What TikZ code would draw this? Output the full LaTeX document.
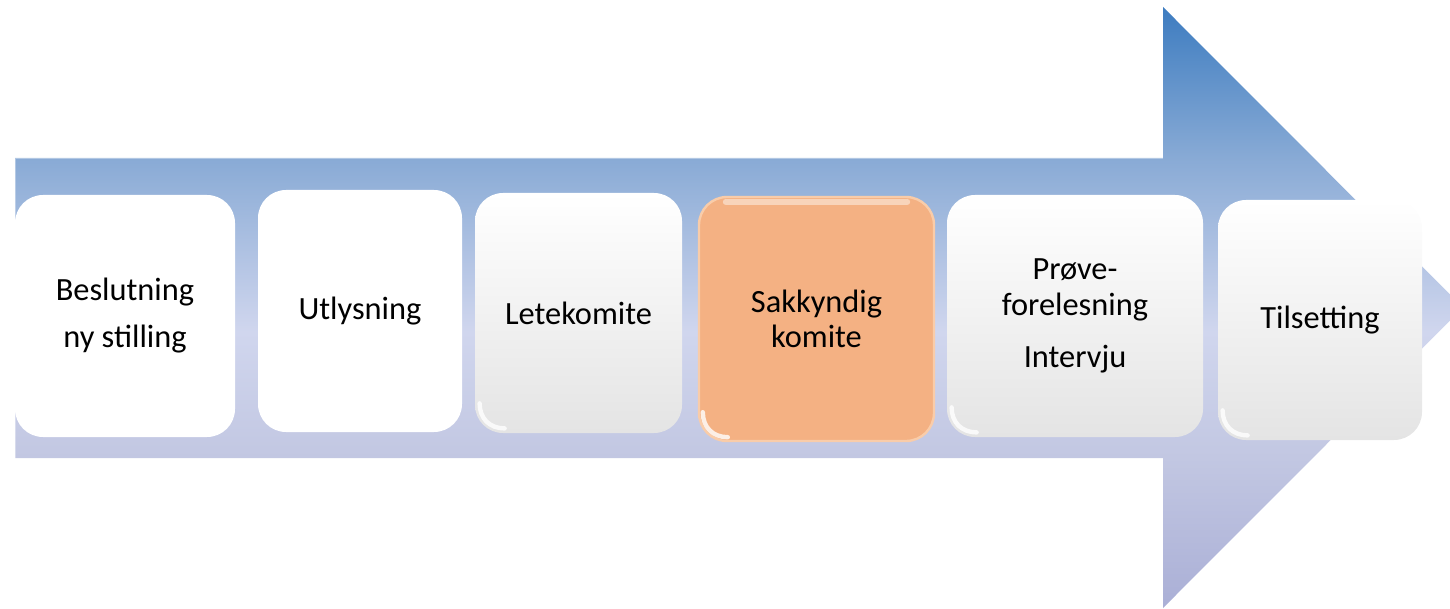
\documentclass[tikz,border=0pt]{standalone}
\usepackage{fontspec}
\setmainfont{Carlito}
\definecolor{ac1}{HTML}{3D7CC0}
\definecolor{ac2}{HTML}{88AAD5}
\definecolor{ac3}{HTML}{D0D6EE}
\definecolor{ac4}{HTML}{C2C7E2}
\definecolor{ac5}{HTML}{AAAFD6}
\definecolor{boxgray}{HTML}{E4E4E4}
\definecolor{orangebox}{HTML}{F4B183}
\definecolor{orangeedge}{HTML}{F9CCA9}
\pgfdeclareverticalshading{arrowshade}{100bp}{color(0bp)=(ac5); color(25bp)=(ac5); color(37.5bp)=(ac4); color(48bp)=(ac3); color(62.5bp)=(ac2); color(75bp)=(ac1); color(100bp)=(ac1)}
\tikzset{
  stepbox/.style={rounded corners=14pt, inner sep=0pt, align=center,
    font=\fontsize{16.2}{17.75}\selectfont},
  plainbox/.style={stepbox, fill=white},
  gradbox/.style={stepbox, top color=white, middle color=white, bottom color=boxgray},
  orbox/.style={stepbox, fill=orangebox, draw=orangeedge, line width=1.2pt},
  glare/.style={draw=white, line width=2.2pt, line cap=round, opacity=0.8}
}
\begin{document}
\begin{tikzpicture}[x=0.5pt,y=-0.5pt]
\useasboundingbox (0,0) rectangle (1450,609);
\begin{scope}
\clip (0,0) rectangle (1450,609);
\shade[shading=arrowshade] (15,158) -- (1163,158) -- (1163,7) -- (1463,307.5) -- (1163,608) -- (1163,458) -- (15,458) -- cycle;
\draw[white, opacity=0.35, line width=1pt] (15,459) -- (15,158) -- (1163,158);
\end{scope}

\node[plainbox, minimum width=110pt, minimum height=121pt] (b1) at (125,316) {Beslutning\\[5.75pt]ny stilling};
\node[plainbox, minimum width=102pt, minimum height=121pt] (b2) at (360,311) {Utlysning};
\node[gradbox, minimum width=103.5pt, minimum height=120pt] (b3) at (578.5,313) {Letekomite};
\node[orbox, minimum width=117.5pt, minimum height=122pt] (b4) at (816.5,319) {Sakkyndig\\komite};
\node[gradbox, minimum width=128pt, minimum height=121pt] (b5) at (1075,316) {Prøve-\\forelesning\\[8.25pt]Intervju};
\node[gradbox, minimum width=102pt, minimum height=120pt] (b6) at (1320,320) {Tilsetting};

\foreach \b in {b3,b4,b5,b6}{
  \draw[glare] ([shift={(5,-30)}]\b.south west) .. controls ([shift={(5,-15)}]\b.south west) and ([shift={(15,-5)}]\b.south west) .. ([shift={(30,-5)}]\b.south west);
}
\draw[draw=white, line width=3pt, line cap=round, opacity=0.45] ([shift={(28,6)}]b4.north west) -- ([shift={(-28,6)}]b4.north east);
\end{tikzpicture}
\end{document}
